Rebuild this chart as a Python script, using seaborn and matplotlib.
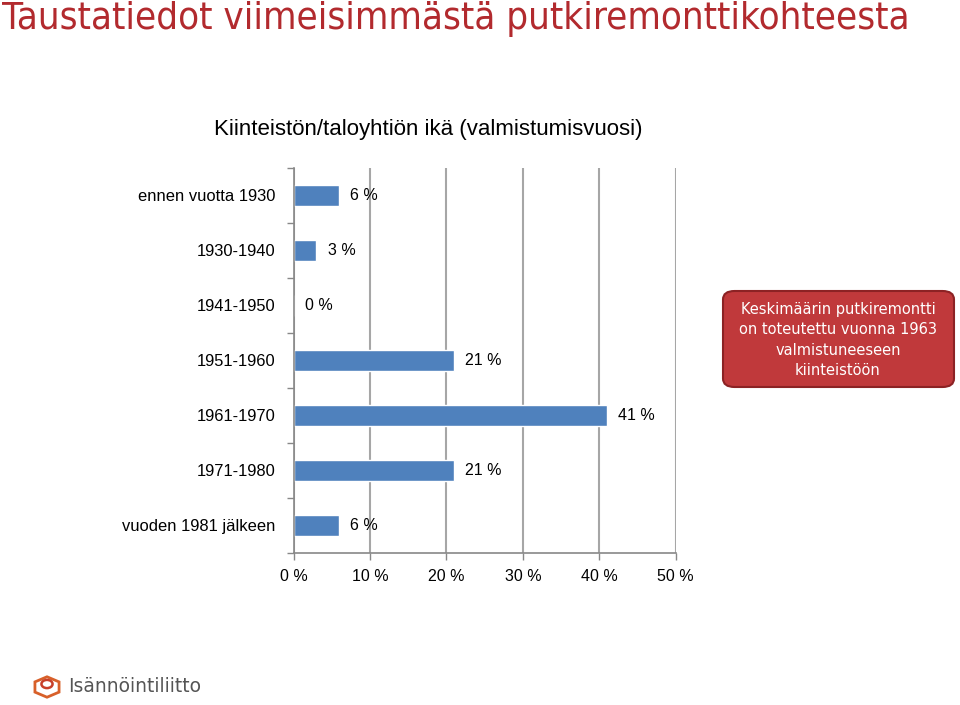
import matplotlib
matplotlib.use("Agg")
import matplotlib.pyplot as plt
import seaborn as sns
import pandas as pd
from matplotlib.patches import FancyBboxPatch, RegularPolygon, Circle
from matplotlib.ticker import FixedLocator

categories = ["ennen vuotta 1930", "1930-1940", "1941-1950", "1951-1960",
              "1961-1970", "1971-1980", "vuoden 1981 jälkeen"]
values = [6, 3, 0, 21, 41, 21, 6]
xticks = [0, 10, 20, 30, 40, 50]
xticklabels = ["0 %", "10 %", "20 %", "30 %", "40 %", "50 %"]

title = "Taustatiedot viimeisimmästä putkiremonttikohteesta"
subtitle = "Kiinteistön/taloyhtiön ikä (valmistumisvuosi)"
note = "Keskimäärin putkiremontti\non toteutettu vuonna 1963\nvalmistuneeseen\nkiinteistöön"
logo_text = "Isännöintiliitto"

sns.set_theme(style="white")
plt.rcParams["font.family"] = ["Liberation Sans", "DejaVu Sans"]

df = pd.DataFrame({"cat": categories, "val": values})

fig = plt.figure(figsize=(9.6, 7.05), dpi=100)
ax = fig.add_axes([293.5 / 960, 1 - 552.7 / 705, (675.7 - 293.5) / 960, (552.7 - 168) / 705])

sns.barplot(data=df, x="val", y="cat", orient="h", color="#4F81BD",
            saturation=1, width=0.38, ax=ax)

ax.set_xlim(0, 50)
ax.set_ylim(6.5, -0.5)
ax.set_xlabel("")
ax.set_ylabel("")
ax.set_xticks(xticks)
ax.set_xticklabels(xticklabels, fontsize=11.5, color="#000000")
ax.tick_params(axis="x", which="major", length=5, width=1, color="#888888",
               direction="out", pad=7, bottom=True)
ax.tick_params(axis="y", which="major", length=0, pad=13)
for lbl in ax.get_yticklabels():
    lbl.set_fontsize(11.9)
    lbl.set_color("#000000")
ax.yaxis.set_minor_locator(FixedLocator([i - 0.5 for i in range(len(categories) + 1)]))
ax.tick_params(axis="y", which="minor", length=5, width=1, color="#888888",
               direction="out", left=True)

ax.grid(axis="x", color="#A6A6A6", linewidth=1.5)
ax.grid(axis="y", visible=False)
ax.set_axisbelow(True)
for s in ["top", "right"]:
    ax.spines[s].set_visible(False)
for s in ["left", "bottom"]:
    ax.spines[s].set_color("#888888")
    ax.spines[s].set_linewidth(1.2)

ax.bar_label(ax.containers[0], labels=[f"{v} %" for v in values],
             padding=8, fontsize=11.5, color="#000000")

fig.text(0.002, 0.999, title, ha="left", va="top", fontsize=27.5,
         color="#B22A2E", family=["DejaVu Sans"], fontstretch="condensed")
fig.text(428 / 960, 1 - 130 / 705, subtitle, ha="center", va="center",
         fontsize=16, color="#000000")

box = FancyBboxPatch((723 / 960, 1 - 387 / 705), (954 - 723) / 960, (387 - 291) / 705,
                     boxstyle="round,pad=0,rounding_size=0.012",
                     transform=fig.transFigure, facecolor="#C0393B",
                     edgecolor="#8C2224", linewidth=1.5)
fig.patches.append(box)
fig.text(838 / 960, 1 - 340 / 705, note, ha="center", va="center",
         fontsize=10.5, color="white", family=["DejaVu Sans"],
         linespacing=1.42)

# logo
hexagon = RegularPolygon((47 / 960, 1 - 687 / 705), numVertices=6, radius=0.0145,
                         orientation=0.0, transform=fig.transFigure,
                         facecolor="none", edgecolor="#D8602A", linewidth=2.0)
fig.patches.append(hexagon)
ring = Circle((47 / 960, 1 - 684 / 705), radius=0.0058, transform=fig.transFigure,
              facecolor="none", edgecolor="#C8402A", linewidth=1.8)
fig.patches.append(ring)
fig.text(68 / 960, 1 - 687 / 705, logo_text, ha="left", va="center",
         fontsize=13.5, color="#555555", family=["DejaVu Sans"])

fig.savefig("out.png", dpi=100)
